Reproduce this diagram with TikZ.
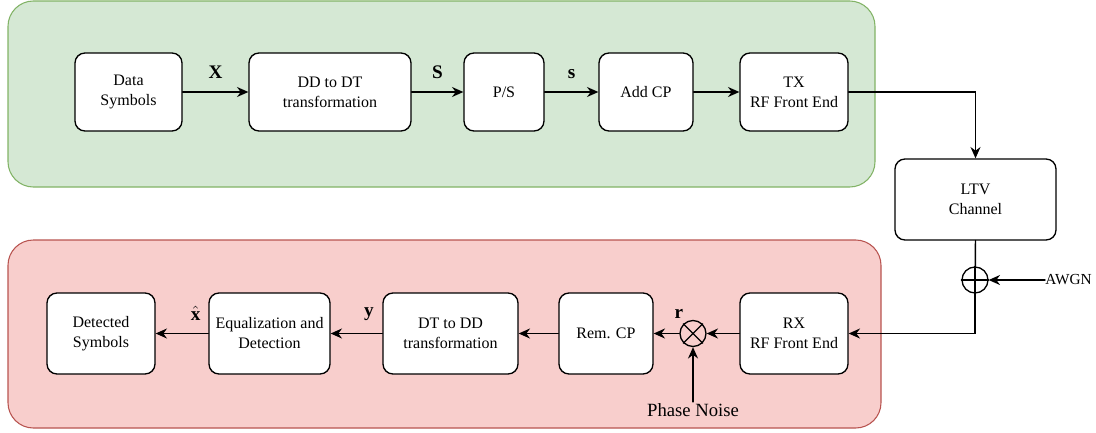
\documentclass[tikz,border=0pt]{standalone}
\usepackage{fontspec}
\setmainfont{Liberation Serif}
\usetikzlibrary{arrows.meta}
\definecolor{txgreen}{HTML}{D5E8D4}
\definecolor{txgreenline}{HTML}{82B366}
\definecolor{rxred}{HTML}{F8CECC}
\definecolor{rxredline}{HTML}{B85450}
\begin{document}
\begin{tikzpicture}[x=0.75pt,y=-0.75pt,line cap=round,
  >={Stealth[length=8.5pt,width=7.5pt]},
  block/.style={draw,line width=1pt,fill=white,rounded corners=7.5pt,align=center,
    minimum height=58.5pt,inner sep=2pt,font=\fontsize{12}{15}\selectfont},
  lowblock/.style={block,minimum height=60.75pt},
  wire/.style={line width=1.1pt},
  sig/.style={above=6pt,font=\Large},
  junction/.style={draw,circle,line width=1pt,minimum size=19.5pt,inner sep=0pt}]
  \useasboundingbox (0,0) rectangle (1096,432);
  % transmitter and receiver panels
  \draw[fill=txgreen,draw=txgreenline,line width=0.8pt,rounded corners=19pt] (8,1) rectangle (875,187);
  \draw[fill=rxred,draw=rxredline,line width=0.8pt,rounded corners=19pt] (8,240) rectangle (881,428);
  % transmitter chain
  \node[block,minimum width=80.25pt] (data) at (128.5,92) {Data\\Symbols};
  \node[block,minimum width=121.5pt] (ddtodt) at (330,92) {DD to DT\\transformation};
  \node[block,minimum width=60pt] (ps) at (504,92) {P/S};
  \node[block,minimum width=70.5pt] (addcp) at (646,92) {Add CP};
  \node[block,minimum width=81pt] (tx) at (794,92) {TX\\RF Front End};
  \node[lowblock,minimum width=120.75pt] (ltv) at (975.5,199.5) {LTV\\Channel};
  % receiver chain
  \node[lowblock,minimum width=81pt] (rx) at (794,333.5) {RX\\RF Front End};
  \node[junction] (mix) at (693,333.5) {};
  \node[lowblock,minimum width=70.5pt] (remcp) at (606,333.5) {Rem. CP};
  \node[lowblock,minimum width=101.25pt] (dttodd) at (450.5,333.5) {DT to DD\\transformation};
  \node[lowblock,minimum width=90.75pt] (eq) at (269.5,333.5) {Equalization and\\Detection};
  \node[lowblock,minimum width=81pt] (det) at (101,333.5) {Detected\\Symbols};
  \node[junction] (sum) at (975,280) {};
  \node[anchor=west,inner sep=0pt,font=\fontsize{11.5}{13}\selectfont] (awgn) at (1045,280) {AWGN};
  \node[inner sep=1pt,font=\fontsize{14}{16}\selectfont] (pn) at (693,410) {Phase Noise};
  % symbols inside the junctions
  \draw[line width=1pt] (sum.north) -- (sum.south) (sum.west) -- (sum.east);
  \draw[line width=1pt] (mix.45) -- (mix.225) (mix.135) -- (mix.315);
  % connectors
  \draw[wire,->] (data) -- node[sig] {$\mathbf{X}$} (ddtodt);
  \draw[wire,->] (ddtodt) -- node[sig] {$\mathbf{S}$} (ps);
  \draw[wire,->] (ps) -- node[sig] {$\mathbf{s}$} (addcp);
  \draw[wire,->] (addcp) -- (tx);
  \node[fill=black,inner sep=0pt,minimum width=5pt,minimum height=2.2pt] (tick) at (715.5,92) {};
  \draw[wire,->] (tx.east) -| (ltv.north);
  \draw[wire] (ltv.south) -- (sum.south);
  \draw[wire,->] (sum.south) |- (rx.east);
  \draw[wire,->] (awgn.west) -- (sum.east);
  \draw[wire,->] (rx.west) -- (mix.east);
  \draw[wire,->] (mix.west) -- (remcp.east);
  \node[font=\Large] (rlabel) at (679,314) {$\mathbf{r}$};
  \draw[wire,->] (pn.north) -- (mix.south);
  \draw[wire,->] (remcp) -- (dttodd);
  \draw[wire,->] (dttodd) -- node[sig,pos=0.26] {$\mathbf{y}$} (eq);
  \draw[wire,->] (eq) -- node[sig,pos=0.24] {$\hat{\mathbf{x}}$} (det);
\end{tikzpicture}
\end{document}
